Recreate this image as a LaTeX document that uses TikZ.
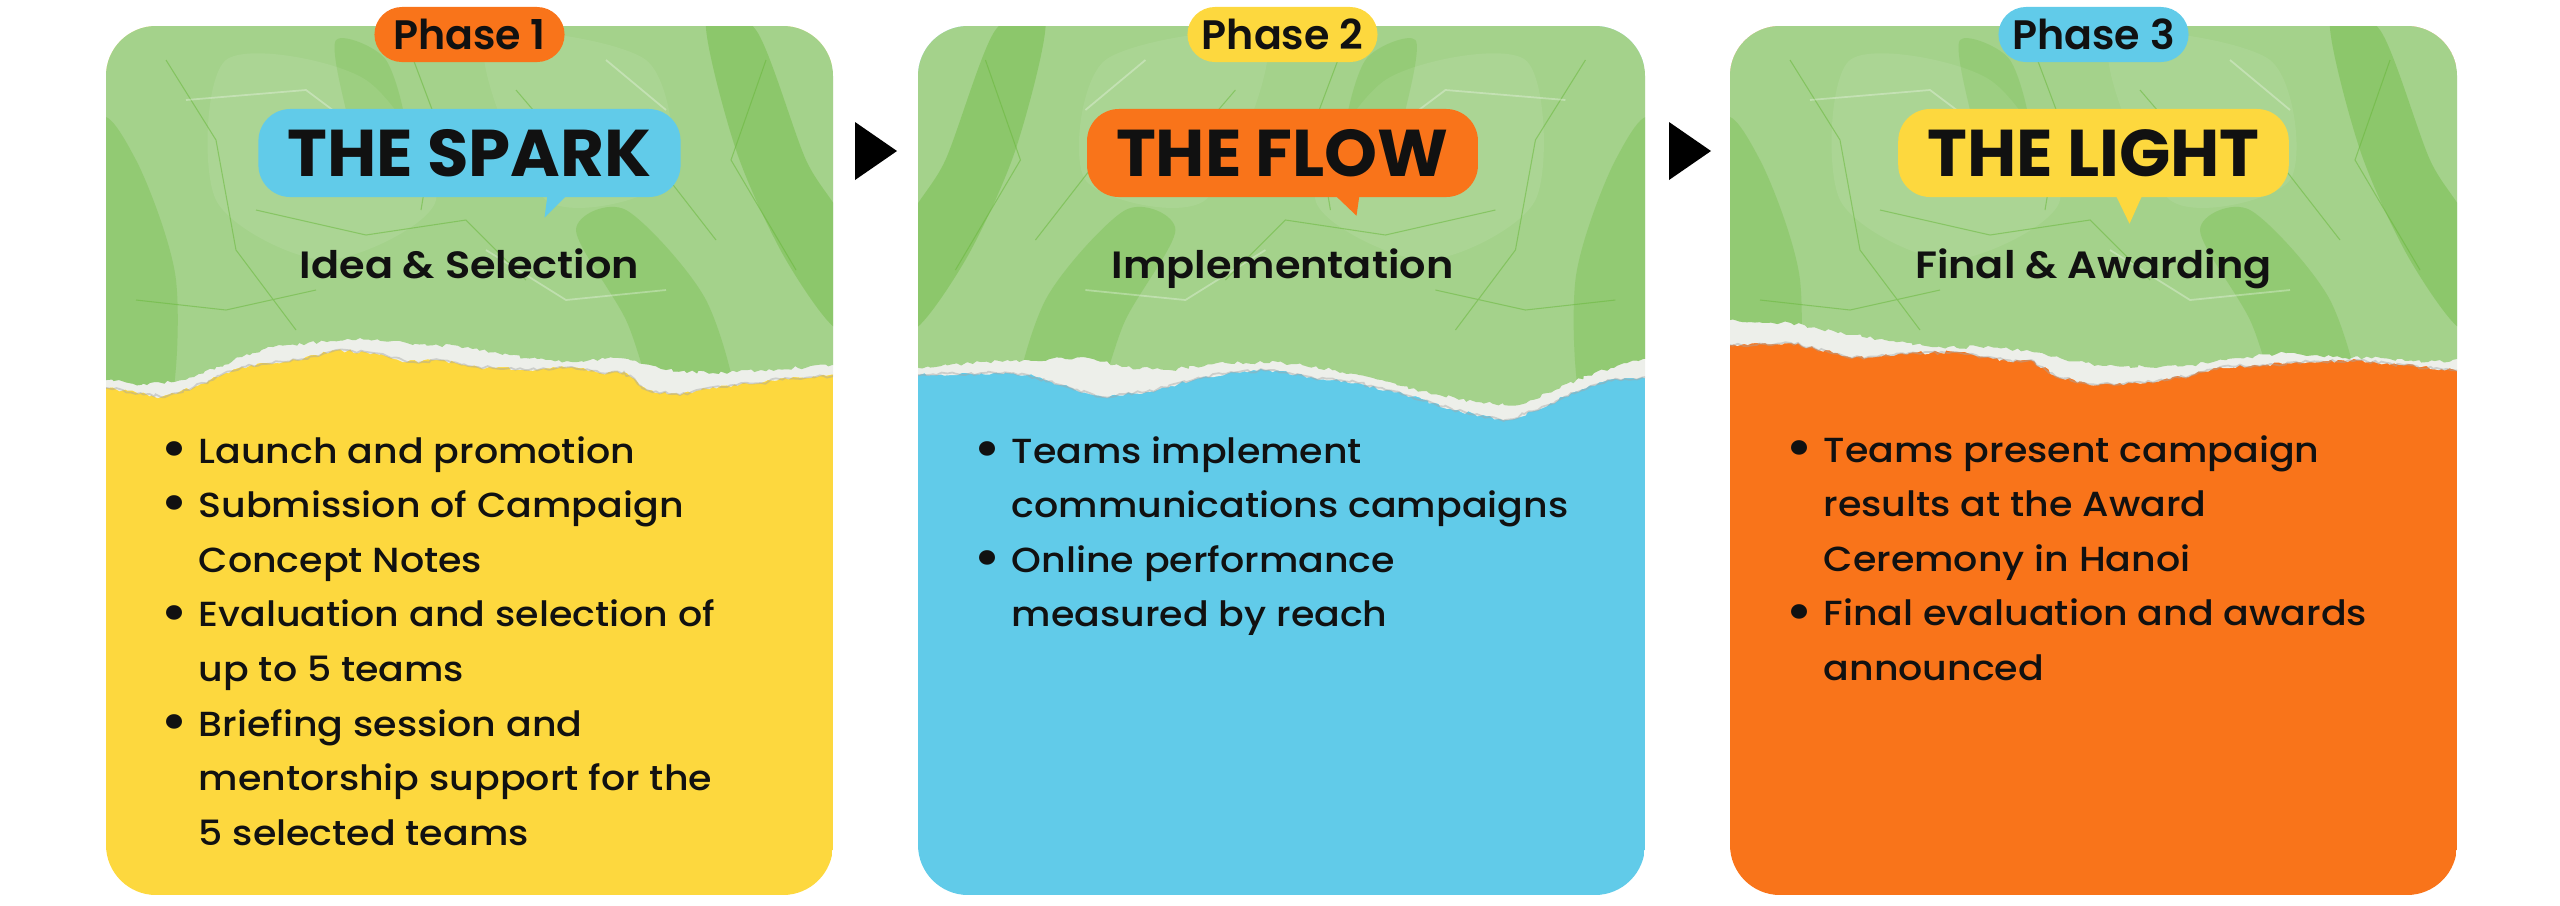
\documentclass[tikz,border=0pt]{standalone}
\usepackage{fontspec}
\setmainfont{Poppins}[UprightFont={* Medium},BoldFont={* Bold}]
\newfontfamily\semibd{Poppins SemiBold}
\newfontfamily\bodyfont{Poppins Medium}[FakeStretch=1.09]
\newfontfamily\subfont{Poppins SemiBold}[FakeStretch=1.09]
\newfontfamily\headfont{Poppins Bold}[FakeStretch=1.02]
\usetikzlibrary{calc,decorations.pathmorphing}
\definecolor{ink}{HTML}{111111}
\definecolor{sun}{HTML}{FDD83E}
\definecolor{sky}{HTML}{61CBE9}
\definecolor{tang}{HTML}{F9741A}
\definecolor{leaf}{HTML}{A4D28B}
\definecolor{moss}{HTML}{6AB83D}
\definecolor{rip}{HTML}{EDEFEA}
\newcommand{\itm}{\llap{\raisebox{-1.2pt}{\scalebox{1.6}{\textbullet}}\hspace{3pt}}}
% crumpled paper look, local card coordinates
\newcommand{\crumple}{%
 \fill[moss,opacity=.4] plot[smooth cycle] coordinates {(600,20) (650,30) (700,160) (740,230) (735,330) (680,260) (630,150)};
 \fill[moss,opacity=.3] plot[smooth cycle] coordinates {(470,230) (520,210) (600,300) (630,420) (560,420) (520,320)};
 \fill[moss,opacity=.3] plot[smooth cycle] coordinates {(-10,130) (30,160) (70,280) (60,420) (-10,420)};
 \fill[moss,opacity=.25] plot[smooth cycle] coordinates {(230,40) (280,60) (300,140) (260,170) (240,110)};
 \fill[white,opacity=.08] plot[smooth cycle] coordinates {(120,60) (260,80) (330,200) (220,260) (110,200)};
 \fill[white,opacity=.07] plot[smooth cycle] coordinates {(380,40) (540,60) (560,180) (440,200)};
 \draw[moss,opacity=.55,line width=.3pt] (60,60) -- (110,140) -- (130,250) -- (190,330) (300,40) -- (330,120) -- (315,210)
 (410,90) -- (470,160) -- (540,150) -- (610,240) (150,210) -- (260,235) -- (360,220) -- (420,280)
 (660,60) -- (625,160) -- (690,270) (30,300) -- (120,310) -- (210,290);
 \draw[white,opacity=.3,line width=.5pt] (80,100) -- (200,90) -- (280,150) (380,250) -- (460,300) -- (560,290) (500,60) -- (560,110);
}
% #2 x of card, #3 lower colour, #4 top of lower colour, #5 bottom of green
\newcommand{\paper}[5][]{%
 \begin{scope}[shift={(#2,0)}]
 \clip[rounded corners=.5cm] (0,26) rectangle (727,895);
 \fill[#3] (0,26) rectangle (727,895);
 \fill[rip,torn] (-10,0) -- plot coordinates {#4} -- (740,0) -- cycle;
 \draw[gray!70,opacity=.45,line width=.5pt,torn] plot coordinates {#4};
 \begin{scope}
 \clip[torn] (-10,0) -- plot coordinates {#5} -- (740,0) -- cycle;
 \fill[leaf] (-10,0) rectangle (740,440);
 \begin{scope}[#1]\crumple\end{scope}
 \end{scope}
 \end{scope}}

\begin{document}
\begin{tikzpicture}[x=0.01cm,y=-0.01cm,
 torn/.style={decorate,decoration={random steps,segment length=1.2pt,amplitude=.5pt}},
 phase/.style={rounded corners=.275cm,minimum height=.55cm,minimum width=1.9cm,inner sep=0pt,
 font=\semibd\fontsize{11.7}{11.7}\selectfont,text=ink},
 title/.style={rounded corners=.32cm,minimum height=.88cm,inner xsep=.29cm,inner ysep=0pt,
 font=\headfont\fontsize{18.8}{18.8}\selectfont,text=ink},
 sub/.style={anchor=base,inner sep=0pt,font=\subfont\fontsize{10.8}{10.8}\selectfont,text=ink},
 itemline/.style={anchor=base west,inner sep=0pt,font=\bodyfont\fontsize{9.9}{9.9}\selectfont,text=ink}]
\pgfmathsetseed{7}
\useasboundingbox (0,0) rectangle (2560,905);

\paper{106}{sun}{(-10,388) (1,388) (55,397) (88,387) (136,367) (192,360) (230,350) (268,353) (301,362) (334,360) (372,367) (419,370) (466,367) (494,373) (518,372) (541,390) (574,395) (607,387) (655,383) (679,378) (740,375)}
 {(-10,380) (1,380) (41,385) (88,377) (136,357) (173,345) (221,342) (254,338) (301,343) (362,347) (419,358) (466,362) (513,358) (560,370) (607,373) (655,370) (702,367) (740,365)}
\paper[xshift=7.27cm,xscale=-1]{918}{sky}{(-10,375) (1,375) (63,373) (110,375) (143,385) (185,397) (228,392) (275,380) (313,372) (351,370) (393,377) (440,383) (488,395) (535,410) (587,420) (620,410) (653,393) (690,380) (740,377)}
 {(-10,368) (1,368) (63,362) (110,360) (171,358) (204,367) (252,370) (299,363) (360,362) (417,370) (464,380) (511,393) (558,402) (601,405) (629,393) (676,373) (709,363) (740,355)}
\paper{1730}{tang}{(-10,345) (0,345) (61,343) (84,348) (122,358) (179,353) (226,352) (254,357) (283,362) (301,360) (330,378) (368,385) (415,383) (462,375) (490,367) (533,365) (580,362) (627,360) (674,365) (740,372)}
 {(-10,320) (0,320) (61,323) (108,333) (155,340) (202,347) (250,347) (297,350) (330,358) (368,365) (415,367) (462,365) (509,358) (556,353) (603,357) (651,358) (698,362) (740,360)}

\foreach \n/\cx/\pc/\tc/\hd/\sb in {1/469.5/tang/sky/THE SPARK/Idea \& Selection,
 2/1282.5/sun/tang/THE FLOW/Implementation,3/2093.5/sky/sun/THE LIGHT/Final \& Awarding}{
 \node[phase,fill=\pc] (ph\n) at (\cx,34.5) {Phase \n};
 \node[title,fill=\tc] (ttl\n) at (\cx,153) {\hd};
 \node[sub] (sub\n) at (\cx,278) {\sb};
}
\fill[sky] ($(ttl1.south)+(78,-3)$) -- ++(-3,23) -- ++(23,-23) -- cycle;
\fill[tang] ($(ttl2.south)+(52,-3)$) -- ++(22,21) -- ++(3,-21) -- cycle;
\fill[sun] ($(ttl3.south)+(22,-3)$) -- ++(14,29) -- ++(13,-29) -- cycle;

\coordinate (gap1) at (876,151);
\coordinate (gap2) at (1690,151);
\foreach \g in {gap1,gap2} \fill[black] ($(\g)+(-21,-29)$) -- ++(42,29) -- ++(-42,29) -- cycle;

\foreach \t [count=\i from 0] in {\itm Launch and promotion,\itm Submission of Campaign,Concept Notes,
 \itm Evaluation and selection of,up to 5 teams,\itm Briefing session and,
 mentorship support for the,5 selected teams}
 \node[itemline] (la\i) at (198,463+54.6*\i) {\t};
\foreach \t [count=\i from 0] in {\itm Teams implement,communications campaigns,
 \itm Online performance,measured by reach}
 \node[itemline] (lb\i) at (1011,463+54.6*\i) {\t};
\foreach \t [count=\i from 0] in {\itm Teams present campaign,results at the Award,Ceremony in Hanoi,
 \itm Final evaluation and awards,announced}
 \node[itemline] (lc\i) at (1823,462+54.6*\i) {\t};
\end{tikzpicture}
\end{document}
